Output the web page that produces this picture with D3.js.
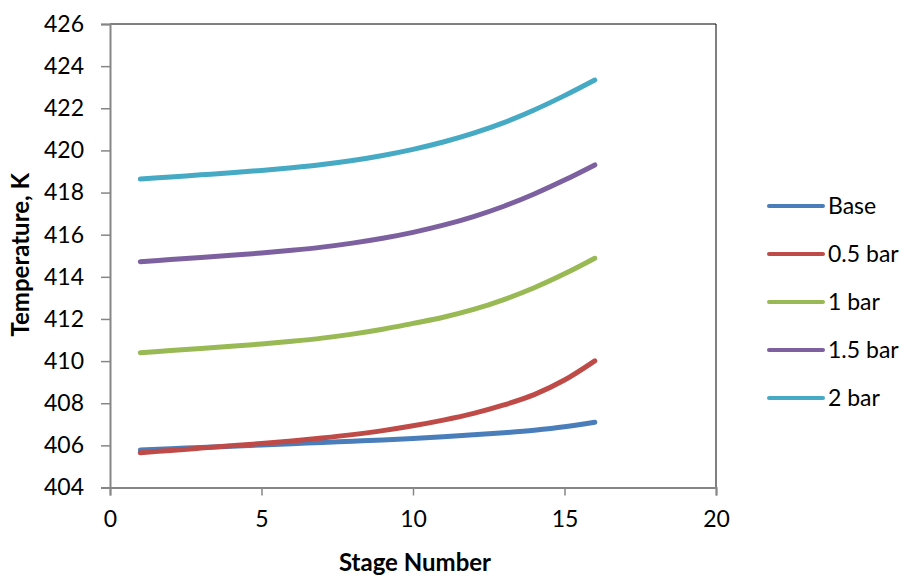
<!DOCTYPE html>
<html>
<head>
<meta charset="utf-8">
<script src="https://cdn.jsdelivr.net/npm/d3@7"></script>
<style>
  html, body { margin: 0; padding: 0; background: #fff; }
  svg text { font-family: Lato, "Open Sans", sans-serif; fill: #000; }
</style>
</head>
<body>
<svg id="chart" width="909" height="576"></svg>
<script>
// Stage temperature profiles for several pressure levels
const stages = d3.range(1, 17);
const seriesNames = ["Base", "0.5 bar", "1 bar", "1.5 bar", "2 bar"];
const base   = [405.78, 405.84, 405.90, 405.96, 406.02, 406.08, 406.14, 406.20, 406.26, 406.33, 406.41, 406.50, 406.60, 406.72, 406.88, 407.10];
const bar05  = [405.65, 405.76, 405.87, 405.98, 406.09, 406.21, 406.35, 406.51, 406.70, 406.93, 407.20, 407.52, 407.92, 408.41, 409.10, 410.01];
const bar1   = [410.40, 410.50, 410.60, 410.70, 410.81, 410.94, 411.09, 411.28, 411.51, 411.79, 412.08, 412.45, 412.92, 413.48, 414.14, 414.88];
const bar15  = [414.72, 414.82, 414.92, 415.02, 415.13, 415.26, 415.41, 415.60, 415.83, 416.11, 416.45, 416.86, 417.35, 417.93, 418.59, 419.31];
const bar2   = [418.64, 418.74, 418.84, 418.94, 419.05, 419.18, 419.33, 419.52, 419.76, 420.05, 420.40, 420.82, 421.32, 421.92, 422.60, 423.34];
const seriesValues = [base, bar05, bar1, bar15, bar2];
const colors = ["#4A7EBB", "#BE4B48", "#98B954", "#7D60A0", "#46AAC5"];
const xTicks = [0, 5, 10, 15, 20];
const yTicks = d3.range(404, 427, 2);

const svg = d3.select("#chart");
const plot = { left: 110, right: 716, top: 24, bottom: 487.5 };
const fontSize = "23px";

const x = d3.scaleLinear().domain([0, 20]).range([plot.left, plot.right]);
const y = d3.scaleLinear().domain([404, 426]).range([plot.bottom, plot.top]);

// frame: top and right edges
svg.append("path")
  .attr("d", `M${plot.left},${plot.top}H${plot.right}V${plot.bottom}`)
  .attr("fill", "none").attr("stroke", "#000").attr("stroke-width", 1);

// y axis
const yAxis = svg.append("g").attr("transform", `translate(${plot.left},0)`)
  .call(d3.axisLeft(y).tickValues(yTicks).tickSize(9).tickPadding(17).tickFormat(d3.format("d")));
yAxis.select(".domain").attr("stroke", "#868686").attr("stroke-width", 2);
yAxis.selectAll(".tick line").attr("stroke", "#868686").attr("stroke-width", 1.5);
yAxis.selectAll(".tick text").style("font-size", fontSize).attr("fill", "#000");

// x axis
const xAxis = svg.append("g").attr("transform", `translate(0,${plot.bottom})`)
  .call(d3.axisBottom(x).tickValues(xTicks).tickSize(8).tickPadding(15).tickFormat(d3.format("d")));
xAxis.select(".domain").attr("stroke", "#868686").attr("stroke-width", 2);
xAxis.selectAll(".tick line").attr("stroke", "#868686").attr("stroke-width", 1.5);
xAxis.selectAll(".tick text").style("font-size", fontSize).attr("fill", "#000");

// axis titles
svg.append("text")
  .attr("x", (plot.left + plot.right) / 2 + 2).attr("y", 571)
  .attr("text-anchor", "middle")
  .style("font-size", "24px").style("font-weight", "bold")
  .text("Stage Number");

svg.append("text")
  .attr("transform", `translate(29,${(plot.top + plot.bottom) / 2 - 1}) rotate(-90)`)
  .attr("text-anchor", "middle")
  .style("font-size", "24px").style("font-weight", "bold")
  .text("Temperature, K");

// series lines
const line = d3.line()
  .x((d, i) => x(stages[i]))
  .y(d => y(d))
  .curve(d3.curveCatmullRom.alpha(0.5));

svg.append("g").selectAll("path")
  .data(seriesValues)
  .join("path")
  .attr("d", line)
  .attr("fill", "none")
  .attr("stroke", (d, i) => colors[i])
  .attr("stroke-width", 5)
  .attr("stroke-linecap", "round")
  .attr("stroke-linejoin", "round");

// legend
const legend = svg.append("g");
const legendItems = legend.selectAll("g")
  .data(seriesNames)
  .join("g")
  .attr("transform", (d, i) => `translate(769,${206 + i * 48})`);
legendItems.append("line")
  .attr("x1", 0).attr("x2", 54)
  .attr("stroke", (d, i) => colors[i])
  .attr("stroke-width", 4)
  .attr("stroke-linecap", "round");
legendItems.append("text")
  .attr("x", 59).attr("dy", "0.35em")
  .style("font-size", fontSize)
  .text(d => d);
</script>
</body>
</html>
